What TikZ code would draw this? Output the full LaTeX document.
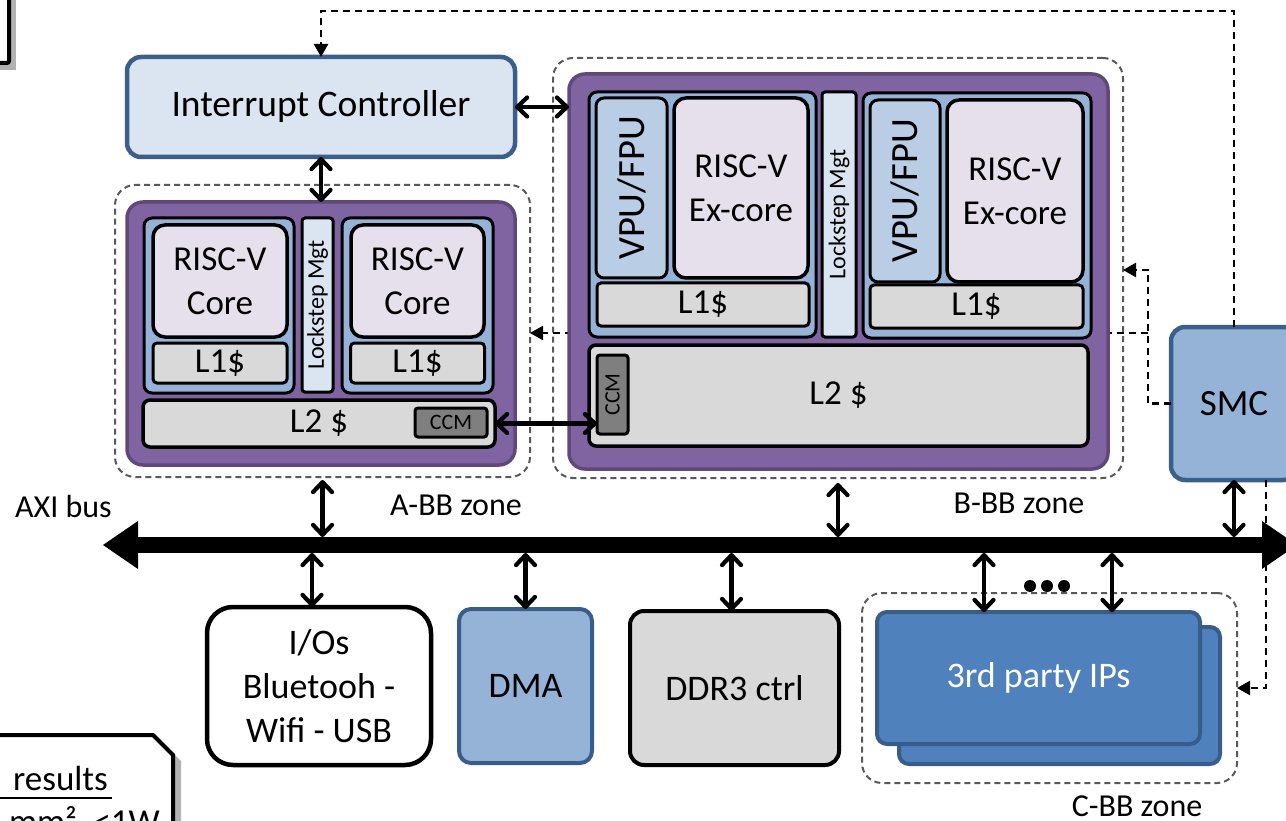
\documentclass[tikz,border=0pt]{standalone}
\usepackage{fontspec}
\setmainfont{Carlito}
\usetikzlibrary{arrows.meta,calc}

\definecolor{purpfill}{HTML}{8064A2}
\definecolor{purpedge}{HTML}{5F497A}
\definecolor{bluemid}{HTML}{95B3D7}
\definecolor{bluelite}{HTML}{DBE5F1}
\definecolor{bluevpu}{HTML}{B9CDE5}
\definecolor{lavender}{HTML}{E5E0EC}
\definecolor{greybox}{HTML}{D9D9D9}
\definecolor{greyccm}{HTML}{7F7F7F}
\definecolor{blueedge}{HTML}{3A5F8B}
\definecolor{ipfill}{HTML}{4F81BD}
\definecolor{ipedge}{HTML}{385D8A}
\definecolor{zonegrey}{HTML}{595959}

\tikzset{
  box/.style={rectangle, inner sep=0pt, outer sep=0pt, align=center,
              font=\fontsize{35}{44}\selectfont},
  zone/.style={box, draw=zonegrey, line width=2pt, dash pattern=on 6pt off 4pt, rounded corners=20pt},
  purp/.style={box, fill=purpfill, draw=purpedge, line width=3.5pt, rounded corners=16pt},
  cont/.style={box, fill=bluemid, draw=black, line width=3pt, rounded corners=8pt},
  core/.style={box, fill=lavender, draw=black, line width=3.5pt, rounded corners=12pt},
  lone/.style={box, fill=greybox, draw=black, line width=3pt, rounded corners=4pt},
  lstep/.style={box, fill=bluelite, draw=black, line width=3pt, rounded corners=3pt,
                font=\fontsize{24}{26}\selectfont},
  vpu/.style={box, fill=bluevpu, draw=black, line width=3pt, rounded corners=8pt,
              font=\fontsize{38.5}{44}\selectfont},
  ltwo/.style={box, fill=greybox, draw=black, line width=3.5pt, rounded corners=7pt},
  ccm/.style={box, fill=greyccm, draw=black, line width=3pt, rounded corners=3pt,
              font=\fontsize{22}{24}\selectfont},
  ctrl/.style={box, fill=bluelite, draw=blueedge, line width=4.5pt, rounded corners=14pt,
               font=\fontsize{37.5}{44}\selectfont},
  smc/.style={box, fill=bluemid, draw=blueedge, line width=4.5pt, rounded corners=14pt,
              font=\fontsize{37}{44}\selectfont},
  dma/.style={box, fill=bluemid, draw=ipedge, line width=4pt, rounded corners=12pt,
              font=\fontsize{36}{44}\selectfont},
  ddr/.style={box, fill=greybox, draw=black, line width=4pt, rounded corners=14pt,
              font=\fontsize{36}{44}\selectfont},
  io/.style={box, fill=white, draw=black, line width=4.5pt, rounded corners=26pt,
             font=\fontsize{36}{44}\selectfont},
  ip/.style={box, fill=ipfill, draw=ipedge, line width=4pt, rounded corners=10pt,
             text=white, font=\fontsize{36}{44}\selectfont},
  lbl/.style={inner sep=0pt, font=\fontsize{32}{36}\selectfont},
  dbl/.style={line width=4.2pt,
              {Straight Barb[length=10pt,width=19pt,round]}-{Straight Barb[length=10pt,width=19pt,round]}},
  dsh/.style={line width=2.5pt, dash pattern=on 7pt off 5pt},
  tri/.style={-{Triangle[length=13pt,width=14pt]}},
  busline/.style={line width=16pt,
              {Triangle[length=35pt,width=48pt,line width=0pt]}-{Triangle[length=35pt,width=48pt,line width=0pt]}},
}

\begin{document}
\begin{tikzpicture}[x=1pt, y=-1pt]
\useasboundingbox (0,0) rectangle (1286,821);

% ---- framed panels at the corners ----
\fill[black!30] (-30,-30) rectangle (16,70);
\draw[line width=4pt, fill=white, rounded corners=2pt] (-30,-30) rectangle (9,63);

\fill[black!30] (-30,741) -- (161,741) -- (181,761) -- (181,860) -- (-30,860) -- cycle;
\draw[line width=4pt, fill=white] (-30,735) -- (153,735) -- (173,755) -- (173,860) -- (-30,860) -- cycle;
\node[lbl, font=\fontsize{35}{40}\selectfont, anchor=base west] (res) at (13,790) {results};
\draw[line width=2pt] (-5,798) -- (112,798);
\node[lbl, font=\fontsize{35}{40}\selectfont, anchor=base east] (pwr) at (160,833) {mm², <1W};

% ---- zones ----
\node[zone, minimum width=415pt, minimum height=292pt] (Azone) at (322.5,331) {};
\node[zone, minimum width=570pt, minimum height=420pt] (Bzone) at (838,268) {};
\node[zone, minimum width=375pt, minimum height=190pt] (Czone) at (1049.5,688) {};

% ---- SMC branch running behind the B cluster ----
\coordinate (jn) at (1148,333);
\coordinate (ju) at (1148,270);
\draw[dsh, tri] (jn) -- (jn -| Azone.east);

% ---- interrupt controller ----
\node[ctrl, minimum width=388pt, minimum height=100pt] (IC) at (321,107) {Interrupt Controller};

% ---- A cluster ----
\node[purp, minimum width=388pt, minimum height=263pt] (Ap) at (321,333.5) {};
\node[cont, minimum width=150pt, minimum height=175pt] (AcL) at (219,305.5) {};
\node[core, minimum width=134pt, minimum height=112pt] (AcoreL) at (220,281) {RISC-V\\Core};
\node[lone, minimum width=134pt, minimum height=40pt] (Al1L) at (220,363) {L1\$};
\node[lstep, minimum width=31pt, minimum height=174pt] (Als) at (317.5,305) {\rotatebox{90}{Lockstep Mgt}};
\node[cont, minimum width=151pt, minimum height=175pt] (AcR) at (417.5,305.5) {};
\node[core, minimum width=133pt, minimum height=112pt] (AcoreR) at (417.5,281) {RISC-V\\Core};
\node[lone, minimum width=134pt, minimum height=40pt] (Al1R) at (417.5,363) {L1\$};
\node[ltwo, minimum width=352pt, minimum height=47pt] (Al2) at (319,423.5) {L2 \$};
\node[ccm, minimum width=72pt, minimum height=29pt] (Accm) at (451,422.5) {CCM};

% ---- B cluster ----
\node[purp, minimum width=539pt, minimum height=395pt] (Bp) at (838.5,271.5) {};
\node[cont, minimum width=227pt, minimum height=245pt] (BcL) at (702.5,214.5) {};
\node[vpu, minimum width=71pt, minimum height=180pt] (BvL) at (631.5,188) {\rotatebox{90}{VPU/FPU}};
\node[core, minimum width=134pt, minimum height=180pt] (BcoreL) at (741,188) {RISC-V\\Ex-core};
\node[lone, minimum width=212pt, minimum height=43pt] (Bl1L) at (703,304.5) {L1\$};
\node[lstep, minimum width=34pt, minimum height=245pt] (Bls) at (839,214.5) {\rotatebox{90}{Lockstep Mgt}};
\node[cont, minimum width=228pt, minimum height=245pt] (BcR) at (977,215.5) {};
\node[vpu, minimum width=70pt, minimum height=182pt] (BvR) at (905,191) {\rotatebox{90}{VPU/FPU}};
\node[core, minimum width=136pt, minimum height=182pt] (BcoreR) at (1015,191) {RISC-V\\Ex-core};
\node[lone, minimum width=213pt, minimum height=43pt] (Bl1R) at (976.5,306.5) {L1\$};
\node[ltwo, minimum width=499pt, minimum height=101pt] (Bl2) at (838.5,395.5) {L2 \$};
\node[ccm, minimum width=31pt, minimum height=79pt] (Bccm) at (612.5,394.5) {\rotatebox{90}{CCM}};

% ---- SMC ----
\node[smc, minimum width=126pt, minimum height=153pt] (SMC) at (1234,403.5) {SMC};

% ---- peripherals ----
\node[io, minimum width=224pt, minimum height=158pt] (IO) at (319,686) {I/Os\\Bluetooh -\\Wifi - USB};
\node[dma, minimum width=133pt, minimum height=154pt] (DMA) at (525.5,686) {DMA};
\node[ddr, minimum width=209pt, minimum height=154pt] (DDR) at (734.5,688) {DDR3 ctrl};
\node[ip, minimum width=321pt, minimum height=137pt] (IPb) at (1059.5,695.5) {};
\node[ip, minimum width=323pt, minimum height=132pt] (IP) at (1038.5,678) {3rd party IPs};

\foreach \dx in {1030,1047,1064} \fill (\dx,586) circle (6pt);

% ---- labels ----
\node[lbl, anchor=west] (axi) at (15,507) {AXI bus};
\node[lbl] (abb) at (456,505) {A-BB zone};
\node[lbl] (bbb) at (1019,503) {B-BB zone};
\node[lbl] (cbb) at (1137,806) {C-BB zone};

% ---- AXI bus ----
\coordinate (busL) at (103,545);
\coordinate (busR) at (1297,545);
\coordinate (busT) at (0,537);
\coordinate (busB) at (0,553);
\draw[busline] (busL) -- (busR);

% ---- bus links ----
\draw[dbl] (Azone.south) ++(0,3) -- (Azone.south |- busT);
\draw[dbl] (Bzone.south) ++(0,5) -- (Bzone.south |- busT);
\draw[dbl] (SMC.south) -- (SMC.south |- busT);
\draw[dbl] ([xshift=-7pt]IO.north) -- ([xshift=-7pt]IO.north |- busB);
\draw[dbl] (DMA.north) -- (DMA.north |- busB);
\draw[dbl] ([xshift=-3pt]DDR.north) -- ([xshift=-3pt]DDR.north |- busB);
\draw[dbl] ([xshift=-54.5pt]IP.north) -- ([xshift=-54.5pt]IP.north |- busB);
\draw[dbl] ([xshift=73.5pt]IP.north) -- ([xshift=73.5pt]IP.north |- busB);

% ---- local links ----
\draw[dbl] (IC.east) -- (IC.east -| Bp.west);
\draw[dbl] (IC.south) -- (Ap.north);
\draw[dbl] (Al2.east) -- (Al2.east -| Bccm.west);

% ---- SMC control lines ----
\coordinate (top) at (0,11);
\draw[dsh, tri] (SMC.north) -- (SMC.north |- top) -| (IC.north);
\draw[dsh, tri] (SMC.west) -| (ju) -- (ju -| Bzone.east);
\draw[dsh, tri] ([xshift=32pt]SMC.south) |- (Czone.east);
\end{tikzpicture}
\end{document}
